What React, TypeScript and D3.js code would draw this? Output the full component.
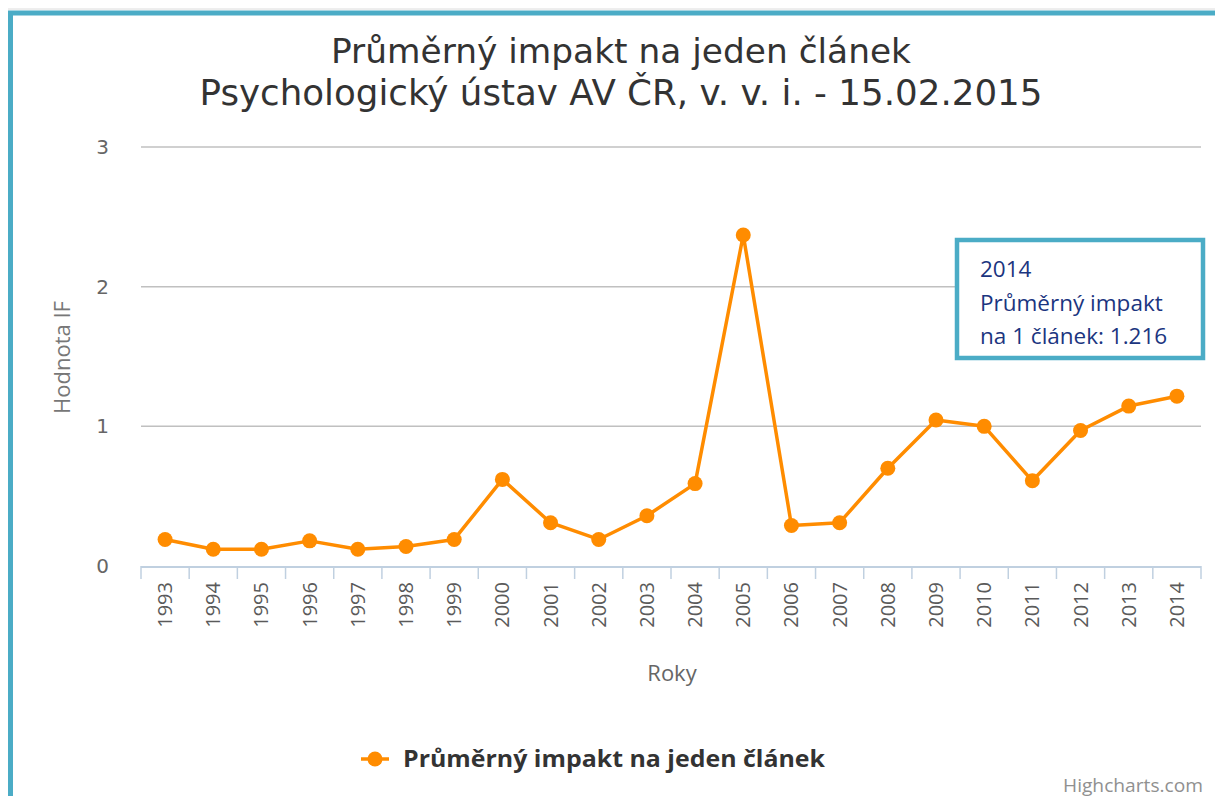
import React from "react";
import * as d3 from "d3";

const years = ["1993","1994","1995","1996","1997","1998","1999","2000","2001","2002","2003","2004","2005","2006","2007","2008","2009","2010","2011","2012","2013","2014"];
const impact = [0.19,0.12,0.12,0.18,0.12,0.14,0.19,0.62,0.31,0.19,0.36,0.59,2.37,0.29,0.31,0.70,1.045,1.00,0.61,0.97,1.145,1.216];
const yTicks = [0,1,2,3];
const titleLines = ["Průměrný impakt na jeden článek","Psychologický ústav AV ČR, v. v. i. - 15.02.2015"];
const seriesName = "Průměrný impakt na jeden článek";
const tooltipLines = ["2014","Průměrný impakt","na 1 článek: 1.216"];

const W = 1215, H = 796;
const plot = { left: 141, right: 1201, top: 147, bottom: 566 };
const orange = "#FF8C00";
const teal = "#4BACC6";

export default function App() {
  const x = d3.scaleBand<string>().domain(years).range([plot.left, plot.right]);
  const y = d3.scaleLinear().domain([0, 3]).range([plot.bottom, plot.top]);
  const line = d3.line<number>()
    .x((_, i) => (x(years[i]) as number) + x.bandwidth() / 2)
    .y((d) => y(d));
  const boundaries = years.map((yr) => x(yr) as number).concat([plot.right]);

  return (
    <div style={{ position: "fixed", left: 0, top: 0 }}>
      <svg width={W} height={H} style={{ display: "block", background: "#fff" }}>
        {/* frame */}
        <line x1={8} y1={9} x2={W} y2={9} stroke="#dcdcdc" strokeWidth={1} />
        <path d={`M10.5,${H} L10.5,13 L${W},13`} fill="none" stroke={teal} strokeWidth={5} />

        {/* title */}
        <text x={621} y={63} textAnchor="middle" fontFamily="DejaVu Sans" fontSize={34.5} fill="#333" textLength={580} lengthAdjust="spacingAndGlyphs">{titleLines[0]}</text>
        <text x={621} y={105} textAnchor="middle" fontFamily="DejaVu Sans" fontSize={35} fill="#333" textLength={843} lengthAdjust="spacingAndGlyphs">{titleLines[1]}</text>

        {/* grid */}
        {yTicks.map((t) => (
          <g key={t}>
            {t > 0 && <line x1={plot.left} x2={plot.right} y1={y(t)} y2={y(t)} stroke="#C0C0C0" strokeWidth={1.5} />}
            <text x={109} y={y(t) + 7} textAnchor="end" fontFamily="DejaVu Sans" fontSize={20} fill="#666">{t}</text>
          </g>
        ))}

        {/* y title */}
        <text transform={`translate(70,${(plot.top + plot.bottom) / 2 + 1}) rotate(-90)`} textAnchor="middle" fontFamily="Open Sans" fontSize={22} fill="#777">Hodnota IF</text>

        {/* x axis */}
        <line x1={plot.left} x2={plot.right} y1={plot.bottom + 1} y2={plot.bottom + 1} stroke="#C0D0E0" strokeWidth={2} />
        {boundaries.map((bx, i) => (
          <line key={i} x1={bx} x2={bx} y1={plot.bottom} y2={plot.bottom + 13} stroke="#C0D0E0" strokeWidth={1.5} />
        ))}
        {years.map((yr) => {
          const cx = (x(yr) as number) + x.bandwidth() / 2;
          return (
            <text key={yr} transform={`translate(${cx + 7},${plot.bottom + 16}) rotate(-90)`} textAnchor="end" fontFamily="Open Sans" fontSize={20} fill="#5a5a5a">{yr}</text>
          );
        })}
        <text x={672} y={681} textAnchor="middle" fontFamily="Open Sans" fontSize={22} fill="#666">Roky</text>

        {/* series */}
        <path d={line(impact) || ""} fill="none" stroke={orange} strokeWidth={3.5} strokeLinejoin="round" />
        {impact.map((v, i) => (
          <circle key={i} cx={(x(years[i]) as number) + x.bandwidth() / 2} cy={y(v)} r={7.5} fill={orange} />
        ))}

        {/* tooltip */}
        <rect x={957} y={240} width={246} height={118} fill="#fff" stroke={teal} strokeWidth={4.5} />
        {tooltipLines.map((t, i) => (
          <text key={i} x={980} y={277 + i * 33.5} fontFamily="Open Sans" fontSize={22.5} fill="#1B3580">{t}</text>
        ))}

        {/* legend */}
        <line x1={361} x2={389} y1={759} y2={759} stroke={orange} strokeWidth={3.5} />
        <circle cx={375} cy={759} r={7.5} fill={orange} />
        <text x={403} y={767} fontFamily="Open Sans" fontWeight="bold" fontSize={23} fill="#333" textLength={422} lengthAdjust="spacingAndGlyphs">{seriesName}</text>

        {/* credits */}
        <text x={1203} y={792} textAnchor="end" fontFamily="Open Sans" fontSize={18.5} fill="#909090" textLength={140} lengthAdjust="spacingAndGlyphs">Highcharts.com</text>
      </svg>
    </div>
  );
}
